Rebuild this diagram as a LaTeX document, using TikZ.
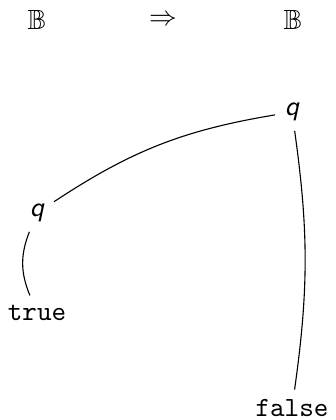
\documentclass[tikz,border=0pt]{standalone}
\usepackage{amssymb}
\begin{document}
\begin{tikzpicture}[
    x=0.36pt, y=-0.36pt,
    var/.style={font=\sffamily\itshape},
    val/.style={font=\ttfamily},
    arc/.style={thin}]
  \useasboundingbox (0,0) rectangle (336,420);
  % type line
  \node (b1)   at (37,20)  {$\mathbb{B}$};
  \node (impl) at (163,20) {$\Rightarrow$};
  \node (b2)   at (293,20) {$\mathbb{B}$};
  % tree
  \node[var] (q0) at (292,112) {q};
  \node[var] (q1) at (37,213)  {q};
  \node[val] (tt) at (37,313)  {true};
  \node[val] (ff) at (292,408) {false};
  \draw[arc] (q1) to[bend left=12] (q0);
  \draw[arc] (q1) to[bend right=22] (tt);
  \draw[arc] (q0) to[bend left=8] (ff);
\end{tikzpicture}
\end{document}
